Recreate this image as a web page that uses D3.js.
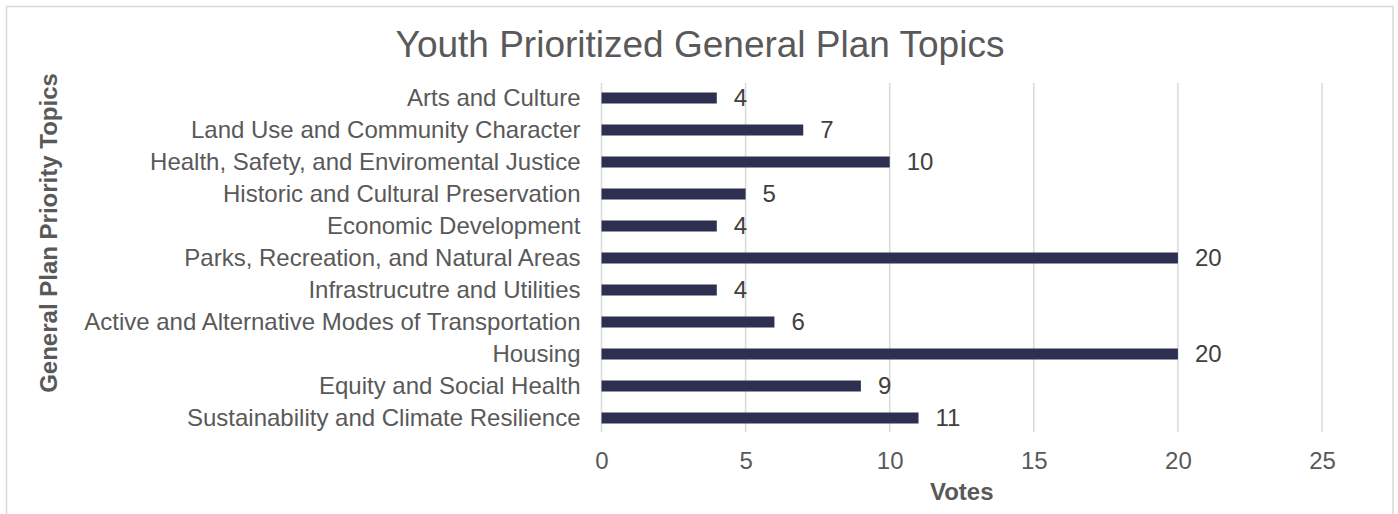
<!DOCTYPE html>
<html>
<head>
    <title>Youth Prioritized General Plan Topics</title>
    <script src="https://d3js.org/d3.v7.min.js"></script>
    <style>
        body { margin: 0; background: white; }
        text { font-family: "Liberation Sans", Arial, sans-serif; }
    </style>
</head>
<body>
    <div id="chart"></div>

    <script>
        // Chart data
        const topics = [
            "Arts and Culture",
            "Land Use and Community Character",
            "Health, Safety, and Enviromental Justice",
            "Historic and Cultural Preservation",
            "Economic Development",
            "Parks, Recreation, and Natural Areas",
            "Infrastrucutre and Utilities",
            "Active and Alternative Modes of Transportation",
            "Housing",
            "Equity and Social Health",
            "Sustainability and Climate Resilience"
        ];
        const votes = [4, 7, 10, 5, 4, 20, 4, 6, 20, 9, 11];
        const xTicks = [0, 5, 10, 15, 20, 25];

        const title = "Youth Prioritized General Plan Topics";
        const xTitle = "Votes";
        const yTitle = "General Plan Priority Topics";

        const width = 1398, height = 514;
        const plot = { left: 601.5, right: 1322, top: 82, bottom: 434 };
        const fontSize = "24px";

        const svg = d3.select("#chart")
            .append("svg")
            .attr("width", width)
            .attr("height", height);

        // chart border (bottom edge runs off the picture)
        svg.append("path")
            .attr("d", `M6.5,${height + 5}V6.5H1393V${height + 5}`)
            .attr("fill", "none")
            .attr("stroke", "#d9d9d9")
            .attr("stroke-width", 1.5);

        const x = d3.scaleLinear()
            .domain([0, 25])
            .range([plot.left, plot.right]);

        const y = d3.scaleBand()
            .domain(topics)
            .range([plot.top, plot.bottom])
            .paddingInner(0.656)
            .paddingOuter(0.328);

        // gridlines
        svg.append("g")
            .selectAll("line")
            .data(xTicks)
            .enter()
            .append("line")
            .attr("x1", d => x(d))
            .attr("x2", d => x(d))
            .attr("y1", plot.top + 1)
            .attr("y2", plot.bottom - 2)
            .attr("stroke", "#d9d9d9")
            .attr("stroke-width", 1.5);

        // x axis labels (no axis line)
        const xAxis = svg.append("g")
            .attr("transform", `translate(0,${plot.bottom})`)
            .call(d3.axisBottom(x).tickValues(xTicks).tickSize(0).tickPadding(18));
        xAxis.select(".domain").remove();
        xAxis.selectAll("text")
            .style("font-size", fontSize)
            .attr("fill", "#595959");

        // y axis labels
        const yAxis = svg.append("g")
            .attr("transform", `translate(${plot.left},0)`)
            .call(d3.axisLeft(y).tickSize(0).tickPadding(21));
        yAxis.select(".domain").remove();
        yAxis.selectAll("text")
            .style("font-size", fontSize)
            .attr("fill", "#595959");

        // bars
        svg.append("g")
            .selectAll("rect")
            .data(topics)
            .enter()
            .append("rect")
            .attr("x", x(0))
            .attr("y", d => y(d))
            .attr("width", (d, i) => x(votes[i]) - x(0))
            .attr("height", y.bandwidth())
            .attr("fill", "#2d3050");

        // data labels
        svg.append("g")
            .selectAll("text")
            .data(topics)
            .enter()
            .append("text")
            .attr("x", (d, i) => x(votes[i]) + 17)
            .attr("y", d => y(d) + y.bandwidth() / 2)
            .attr("dy", "0.35em")
            .style("font-size", fontSize)
            .attr("fill", "#404040")
            .text((d, i) => votes[i]);

        // titles
        svg.append("text")
            .attr("x", 700)
            .attr("y", 57)
            .attr("text-anchor", "middle")
            .style("font-size", "37px")
            .attr("fill", "#595959")
            .text(title);

        svg.append("text")
            .attr("x", (plot.left + plot.right) / 2)
            .attr("y", 500)
            .attr("text-anchor", "middle")
            .style("font-size", fontSize)
            .style("font-weight", "bold")
            .attr("fill", "#595959")
            .text(xTitle);

        svg.append("text")
            .attr("transform", "translate(57,233) rotate(-90)")
            .attr("text-anchor", "middle")
            .style("font-size", fontSize)
            .style("font-weight", "bold")
            .attr("fill", "#595959")
            .text(yTitle);
    </script>
</body>
</html>
